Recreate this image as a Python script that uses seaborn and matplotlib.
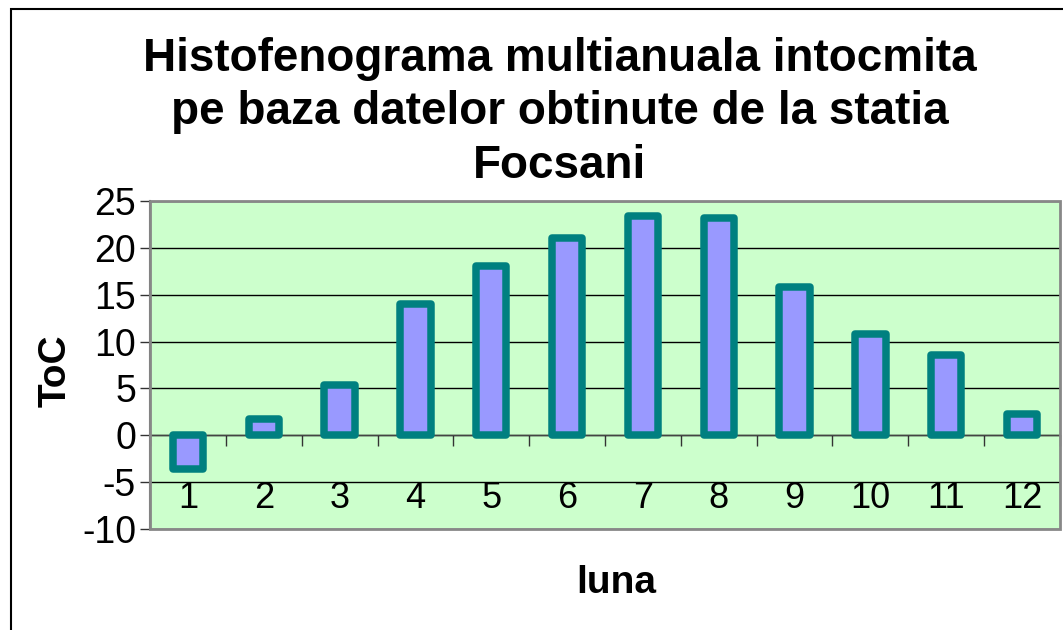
import numpy as np
import pandas as pd
import matplotlib
matplotlib.use("Agg")
import matplotlib.pyplot as plt
from matplotlib.patches import Rectangle
import seaborn as sns

# ---- data ----
months = ["1", "2", "3", "4", "5", "6", "7", "8", "9", "10", "11", "12"]
temps = [-3.6, 1.7, 5.4, 14.0, 18.1, 21.1, 23.4, 23.2, 15.8, 10.8, 8.6, 2.3]
yticks = [-10, -5, 0, 5, 10, 15, 20, 25]
title = "Histofenograma multianuala intocmita\npe baza datelor obtinute de la statia\nFocsani"
xlabel = "luna"
ylabel = "ToC"

sns.set_theme(style="white")
plt.rcParams['font.family'] = ['Liberation Sans', 'DejaVu Sans']
plt.rcParams['text.color'] = 'black'
plt.rcParams['xtick.color'] = 'black'
plt.rcParams['ytick.color'] = 'black'

W, H = 1063, 630
fig = plt.figure(figsize=(W / 100, H / 100), dpi=100)
ax = fig.add_axes([150 / W, 1 - 529 / H, (1060 - 150) / W, (529 - 201) / H])
ax.set_facecolor("#CCFFCC")

df = pd.DataFrame({"luna": months, "t": temps})
sns.barplot(data=df, x="luna", y="t", ax=ax, color="#9999FF", saturation=1,
            edgecolor="#008080", linewidth=5.4, width=0.4, zorder=3)
for p in ax.patches:
    p.set_joinstyle("round")

ax.set_xlim(-0.5, len(months) - 0.5)
ax.set_ylim(-10, 25)
ax.set_yticks(yticks)
ax.set_yticklabels([str(v) for v in yticks], fontsize=27)
ax.grid(axis="y", color="black", linewidth=1.0, zorder=1)
ax.set_axisbelow(True)
ax.tick_params(axis="y", which="major", direction="out", length=7, width=1,
               color="#333333", left=True, pad=3, labelcolor="black")

# x axis at zero with boundary ticks, labels below via minor ticks
ax.spines["bottom"].set_position(("data", 0))
ax.spines["bottom"].set_color("#444444")
ax.spines["bottom"].set_linewidth(1.0)
ax.set_xticks(np.arange(-0.5, len(months), 1.0))
ax.set_xticklabels([])
ax.set_xticks(np.arange(len(months)), minor=True)
ax.set_xticklabels(months, minor=True, fontsize=26)
ax.tick_params(axis="x", which="major", direction="out", length=8, width=1,
               color="#333333", bottom=True)
ax.tick_params(axis="x", which="minor", length=0, pad=33, labelcolor="black")

for s in ["top", "right"]:
    ax.spines[s].set_visible(False)
ax.spines["left"].set_color("#555555")
ax.spines["left"].set_linewidth(1.5)
ax.add_patch(Rectangle((0, 0), 1, 1, transform=ax.transAxes, fill=False,
                       edgecolor="#888888", linewidth=2.0, zorder=5, clip_on=False))

ax.set_xlabel("")
ax.set_ylabel("")
fig.text(616 / W, 1 - 583 / H, xlabel, fontsize=28, fontweight="bold",
         ha="center", va="center", color="black")
fig.text(56 / W, 1 - 371 / H, ylabel, fontsize=28, fontweight="bold",
         ha="center", va="center", rotation=90, color="black")
fig.text(560 / W, 1 - 178 / H, title, fontsize=33, fontweight="bold",
         ha="center", va="baseline", linespacing=1.28, multialignment="center",
         color="black")

# outer chart border (left and top visible)
fig.add_artist(Rectangle((10.5 / W, -0.1), 1.2, 1 - 9.5 / H + 0.1,
                         transform=fig.transFigure, fill=False,
                         edgecolor="black", linewidth=1.5))

fig.savefig("out.png", dpi=100)
